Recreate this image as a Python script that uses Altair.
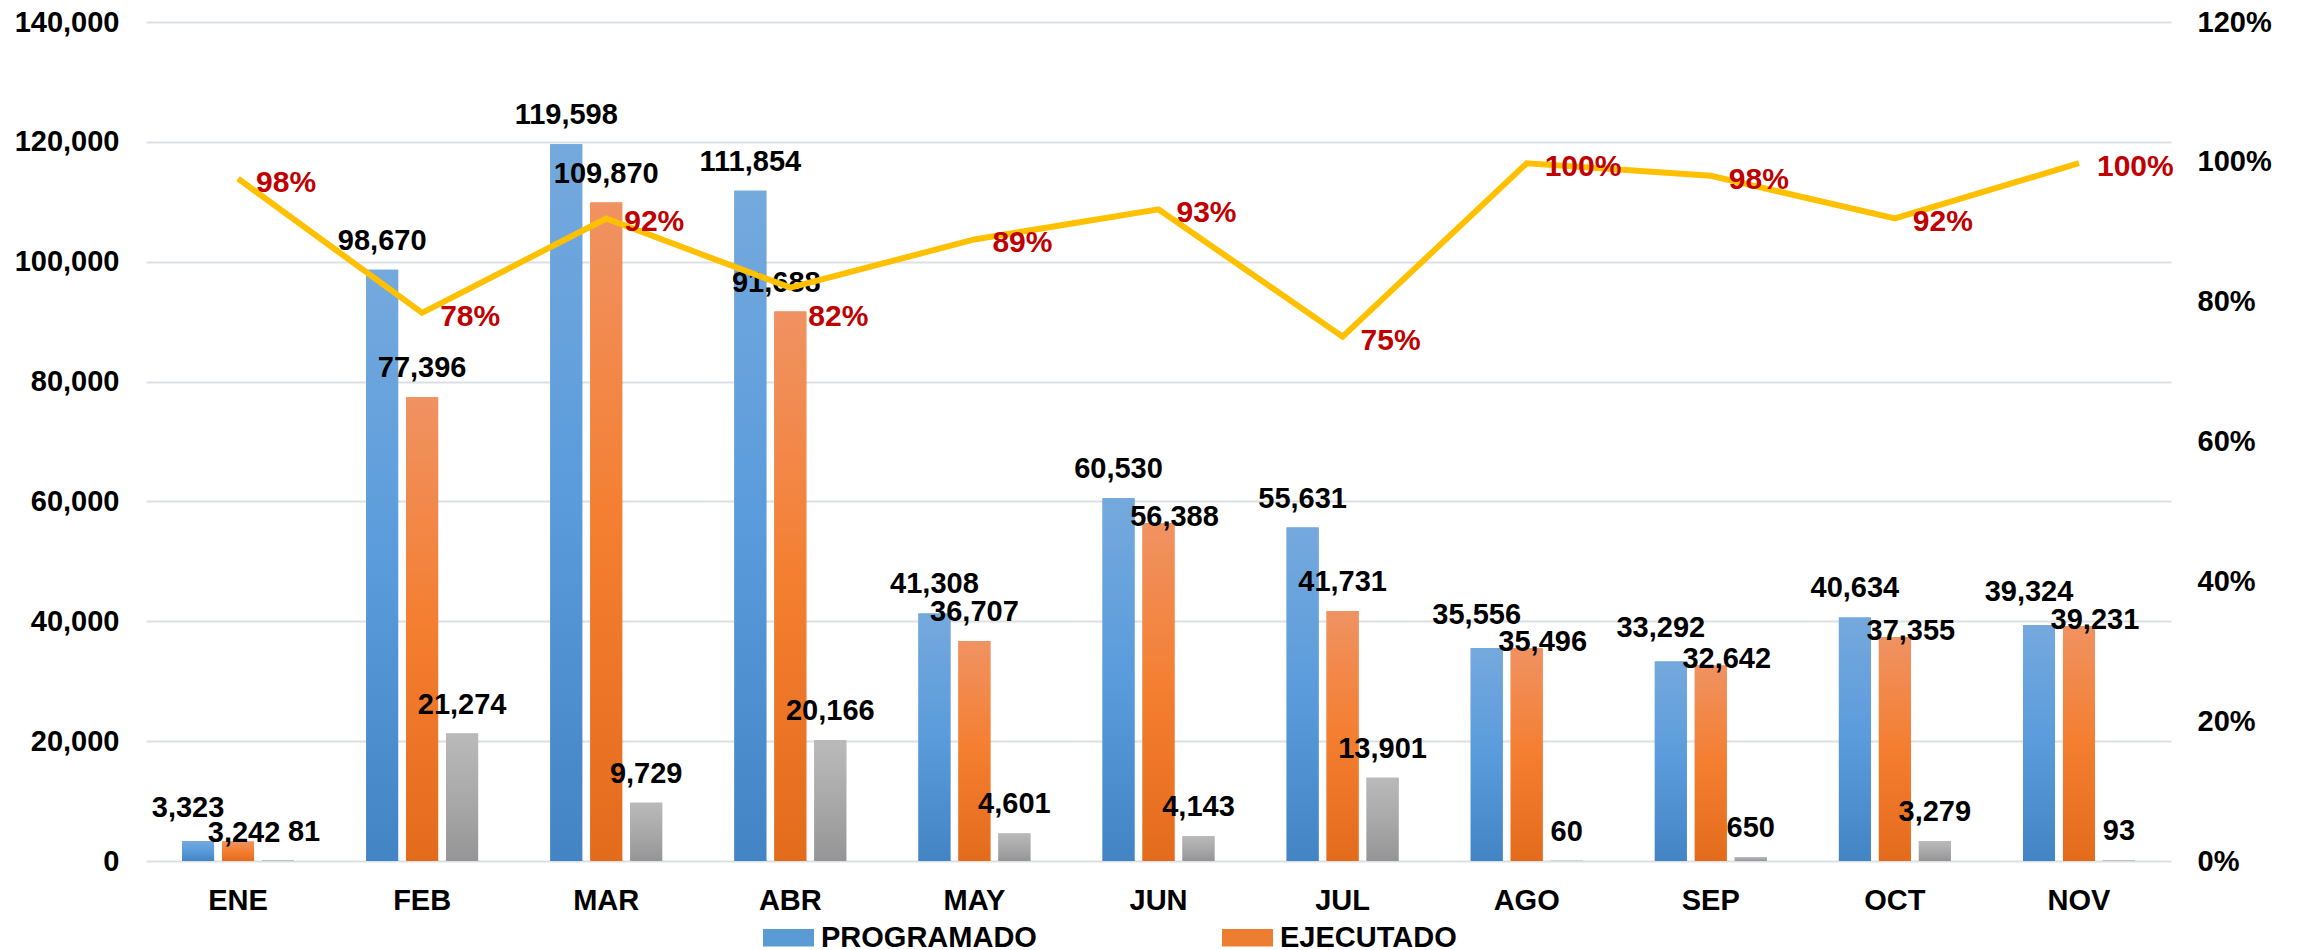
import altair as alt
import pandas as pd

# ---------------- data ----------------
meses = ["ENE", "FEB", "MAR", "ABR", "MAY", "JUN", "JUL", "AGO", "SEP", "OCT", "NOV"]
programado = [3323, 98670, 119598, 111854, 41308, 60530, 55631, 35556, 33292, 40634, 39324]
ejecutado = [3242, 77396, 109870, 91688, 36707, 56388, 41731, 35496, 32642, 37355, 39231]
diferencia = [81, 21274, 9729, 20166, 4601, 4143, 13901, 60, 650, 3279, 93]
porcentaje = [0.976, 0.784, 0.919, 0.820, 0.889, 0.932, 0.750, 0.998, 0.980, 0.919, 0.998]
series = ["PROGRAMADO", "EJECUTADO", "DIFERENCIA"]
leyenda = ["PROGRAMADO", "EJECUTADO"]
y_ticks = [0, 20000, 40000, 60000, 80000, 100000, 120000, 140000]
pct_ticks = [0, 0.2, 0.4, 0.6, 0.8, 1.0, 1.2]
Y_MAX, PCT_MAX = 140000, 1.2

# ---------------- tables (label-placement flags derived from the data) ----------------
rows, pct_rows = [], []
for i, m in enumerate(meses):
    gap = abs(programado[i] - ejecutado[i])
    muy_cercano = gap < 1000          # blue and orange labels at same height
    cercano = gap < 4400
    bajo = ejecutado[i] < 10000
    rel = porcentaje[i] / PCT_MAX - ejecutado[i] / Y_MAX
    choque = 0 < rel < 0.06            # % label would sit on the orange label
    for s, vals in zip(series, [programado, ejecutado, diferencia]):
        rows.append({"mes": m, "serie": s, "valor": vals[i], "muy_cercano": muy_cercano,
                     "cercano": cercano, "bajo": bajo, "choque": choque})
    pct_rows.append({"mes": m, "pct": porcentaje[i], "choque": choque})
long_df = pd.DataFrame(rows)
pct_df = pd.DataFrame(pct_rows)

# ---------------- style ----------------
FONT = "Liberation Sans"
BLUE, ORANGE, GRAY = "#5b9bd5", "#ed7d31", "#a5a5a5"


def grad(c0, c1, c2):
    return alt.LinearGradient(
        gradient="linear", x1=0, x2=0, y1=0, y2=1,
        stops=[alt.GradientStop(color=c0, offset=0),
               alt.GradientStop(color=c1, offset=0.5),
               alt.GradientStop(color=c2, offset=1)])


grads = {
    "PROGRAMADO": grad("#74a9dd", "#5a9bdc", "#4284c4"),
    "EJECUTADO": grad("#f09262", "#f47e30", "#e36b1c"),
    "DIFERENCIA": grad("#bababa", "#a9a9a9", "#959595"),
}

x_enc = alt.X(
    "mes:N", sort=meses,
    scale=alt.Scale(domain=meses, paddingInner=0.392, paddingOuter=0.196),
    axis=alt.Axis(title=None, labelAngle=0, labelFont=FONT, labelFontSize=29,
                  labelFontWeight="bold", labelColor="#000000", domain=False,
                  ticks=False, tickSize=0, labelPadding=25, grid=False),
)
xoff = alt.XOffset("serie:N", scale=alt.Scale(domain=series, paddingInner=0.2, paddingOuter=0))
y_scale = alt.Scale(domain=[0, Y_MAX], nice=False, zero=True)
left_axis = alt.Axis(title=None, values=y_ticks, format=",.0f", labelFont=FONT,
                     labelFontSize=29, labelFontWeight="bold", labelColor="#000000",
                     grid=True, gridColor="#dcdfe4", gridWidth=2, domain=False,
                     ticks=False, tickSize=0, labelPadding=27)
y_enc = alt.Y("valor:Q", scale=y_scale, axis=left_axis)

base = alt.Chart(long_df)

bars_legend = base.mark_bar().encode(
    x=x_enc, xOffset=xoff, y=y_enc,
    color=alt.Color(
        "serie:N",
        scale=alt.Scale(domain=series, range=[BLUE, ORANGE, GRAY]),
        legend=alt.Legend(
            title=None, orient="none", legendX=617, legendY=890,
            direction="horizontal", values=leyenda,
            symbolType="M-1,-0.34H1V0.34H-1Z", symbolSize=2601,
            symbolStrokeWidth=0, labelFont=FONT, labelFontSize=29,
            labelFontWeight="bold", labelColor="#000000", labelOffset=7,
            labelLimit=500, columnPadding=185, padding=0, offset=0,
        ),
    ),
)

grad_layers = [
    base.transform_filter(alt.datum.serie == s).mark_bar(color=grads[s]).encode(
        x=x_enc, xOffset=xoff, y=y_enc)
    for s in series
]

txt_kw = dict(font=FONT, fontSize=29, fontWeight="bold", color="#000000",
              baseline="alphabetic", align="center")


def labels(filt, dx=0, dy=-20):
    return base.transform_filter(filt).mark_text(dx=dx, dy=dy, **txt_kw).encode(
        x=x_enc, xOffset=xoff, y=y_enc,
        text=alt.Text("valor:Q", format=","))


P = "datum.serie === 'PROGRAMADO'"
E = "datum.serie === 'EJECUTADO'"
D = "datum.serie === 'DIFERENCIA'"
text_layers = [
    labels(f"{P} && !datum.muy_cercano"),
    labels(f"{P} && datum.muy_cercano", dx=-10, dy=-24),
    labels(f"{E} && !datum.cercano && !datum.choque"),
    labels(f"{E} && !datum.cercano && datum.choque", dx=-14),
    labels(f"{E} && datum.cercano && !datum.bajo", dx=16, dy=3),
    labels(f"{E} && datum.cercano && datum.bajo", dx=6, dy=0),
    labels(f"{D} && !datum.bajo"),
    labels(f"{D} && datum.bajo", dx=26),
]

left = alt.layer(bars_legend, *grad_layers, *text_layers)

right_axis = alt.Axis(orient="right", title=None, values=pct_ticks, format=".0%",
                      labelFont=FONT, labelFontSize=29, labelFontWeight="bold",
                      labelColor="#000000", labelAlign="left", grid=False, domain=False,
                      ticks=False, tickSize=0, labelPadding=26)
y2_enc = alt.Y("pct:Q", scale=alt.Scale(domain=[0, PCT_MAX], nice=False, zero=True),
               axis=right_axis)

line = alt.Chart(pct_df).mark_line(color="#FFC000", strokeWidth=6).encode(x=x_enc, y=y2_enc)

pct_kw = dict(font=FONT, fontSize=30, fontWeight="bold", color="#C00000",
              align="left", baseline="middle", dx=18)
pct_text = alt.Chart(pct_df).transform_filter("!datum.choque").mark_text(dy=4, **pct_kw).encode(
    x=x_enc, y=y2_enc, text=alt.Text("pct:Q", format=".0%"))
pct_text_low = alt.Chart(pct_df).transform_filter("datum.choque").mark_text(dy=29, **pct_kw).encode(
    x=x_enc, y=y2_enc, text=alt.Text("pct:Q", format=".0%"))

right = alt.layer(line, pct_text, pct_text_low)

chart = (
    alt.layer(left, right)
    .resolve_scale(y="independent")
    .properties(
        width=2025, height=839,
        autosize=alt.AutoSizeParams(type="none"),
        padding={"left": 138, "top": 14, "right": 110, "bottom": 100},
        background="#ffffff",
    )
    .configure_view(stroke=None)
)

chart.save("out.html", embed_options={"renderer": "svg", "actions": False})
